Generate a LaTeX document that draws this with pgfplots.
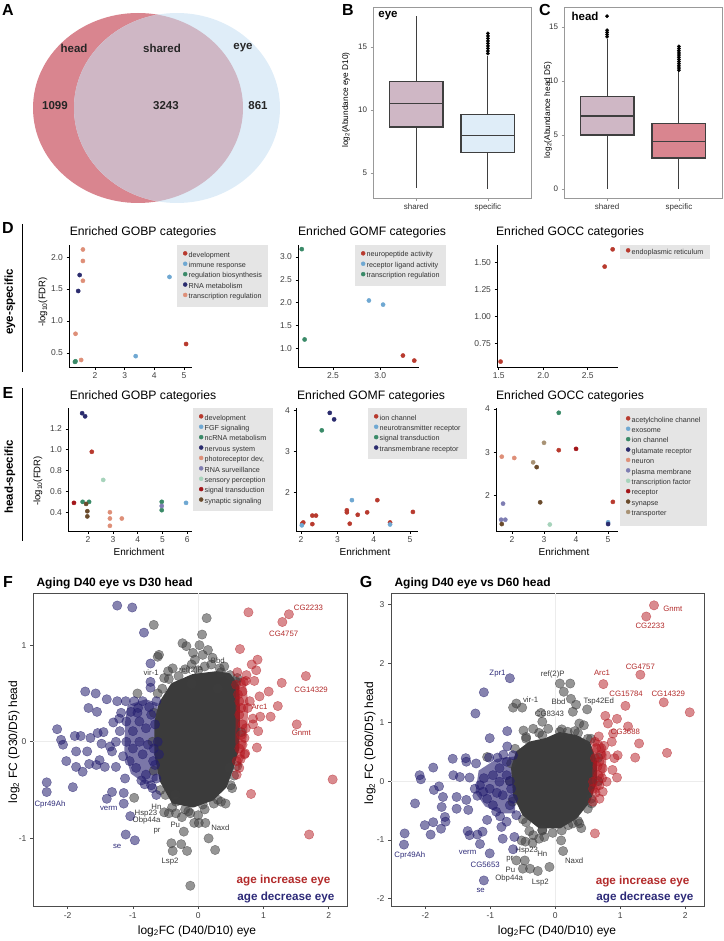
\documentclass[border=0pt]{standalone}
\usepackage{fontspec}
\setmainfont{Liberation Sans}
\usepackage{pgfplots}
\pgfplotsset{compat=1.18}
\usepgfplotslibrary{statistics}
\definecolor{headc}{HTML}{D9858F}
\definecolor{eyec}{HTML}{DFEDF8}
\definecolor{sharedc}{HTML}{CFB7C5}
\definecolor{boxc}{HTML}{3F3F3F}
\definecolor{cdev}{HTML}{B83A2E}
\definecolor{clb}{HTML}{6FA8D2}
\definecolor{cgr}{HTML}{3A8A68}
\definecolor{cnavy}{HTML}{2B2C6E}
\definecolor{csal}{HTML}{DE8F78}
\definecolor{clav}{HTML}{7E7DB2}
\definecolor{clg}{HTML}{A6D3BB}
\definecolor{cdr}{HTML}{A3161A}
\definecolor{cbr}{HTML}{6A4B2C}
\definecolor{ctan}{HTML}{A89274}
\definecolor{ptgrey}{HTML}{3E3E3E}
\definecolor{coreg}{HTML}{3B3B3B}
\definecolor{ptblue}{HTML}{231D6E}
\definecolor{ptred}{HTML}{B3171F}
\definecolor{labred}{HTML}{B22A2A}
\definecolor{labblue}{HTML}{2D2A78}
\definecolor{labgrey}{HTML}{3A3A3A}
\pgfplotsset{
 /pgf/number format/assume math mode=true,
 goax/.style={scale only axis, anchor=south west, axis lines=left, axis line style={-, line width=0.9pt, black},
   tick align=outside, major tick length=2.5pt, tick style={line width=0.7pt, black},
   tick label style={font=\fontsize{8.5}{9}\selectfont, text=black!75}, clip=false,
   legend cell align=left,
   legend style={fill=gray!20, draw=none, font=\fontsize{7.2}{8}\selectfont, text=black!80, anchor=north west,
     inner xsep=6pt, inner ysep=6pt, row sep=2.5pt, column sep=1pt,
     nodes={inner sep=0.5pt, text height=5.3pt, text depth=1.6pt}},
   legend image code/.code={\draw[##1, mark size=2pt] plot coordinates {(1pt,1.8pt)};}},
 gp/.style={only marks, mark=*, mark size=2.1pt, color=#1, mark options={fill=#1, draw=#1}},
 bxax/.style={scale only axis, anchor=south west, width=158pt, height=191pt, xmin=0.4, xmax=2.6,
   boxplot/draw direction=y, tick pos=left,
   xtick={1,2}, xticklabels={shared,specific}, axis line style={gray!80, line width=0.8pt},
   tick align=outside, major tick length=2.5pt, tick style={gray!80, line width=0.6pt},
   tick label style={font=\fontsize{8}{9}\selectfont, text=black!80}},
 sax/.style={scale only axis, anchor=south west, width=314pt, height=313pt, tick pos=left,
   axis line style={gray!60!black, line width=0.9pt}, tick align=outside, major tick length=3pt,
   tick style={gray!60!black, line width=0.7pt}, tick label style={font=\fontsize{8.5}{9}\selectfont, text=black!75},
   xtick={-2,-1,0,1,2}},
 gpt/.style={only marks, mark=*, mark size=4.7pt, mark options={fill=ptgrey, draw=ptgrey, fill opacity=0.55, draw opacity=0.6, line width=0.4pt}},
 bpt/.style={only marks, mark=*, mark size=4.7pt, mark options={fill=ptblue, draw=ptblue, fill opacity=0.55, draw opacity=0.6, line width=0.4pt}},
 rpt/.style={only marks, mark=*, mark size=4.7pt, mark options={fill=ptred, draw=ptred, fill opacity=0.5, draw opacity=0.55, line width=0.4pt}},
 outl/.style={mark=*, mark size=1.8pt, mark options={fill=black, draw=black, line width=0.2pt}},
}
\begin{document}
\begin{tikzpicture}
\useasboundingbox (0pt,0pt) rectangle (723pt,-941pt);
% ---------------- Panel letters
\begin{scope}[font=\fontsize{16}{16}\selectfont\bfseries]
\node at (8pt,-10pt) {A};
\node at (348pt,-10pt) {B};
\node at (545pt,-10pt) {C};
\node at (8pt,-228pt) {D};
\node at (8pt,-393pt) {E};
\node at (8pt,-582pt) {F};
\node at (366pt,-582pt) {G};
\end{scope}
% ---------------- A: Venn
\fill[headc] (138pt,-108pt) ellipse [x radius=105pt, y radius=95pt];
\fill[eyec] (177pt,-108pt) ellipse [x radius=103pt, y radius=95pt];
\begin{scope}
\clip (138pt,-108pt) ellipse [x radius=105pt, y radius=95pt];
\fill[sharedc] (177pt,-108pt) ellipse [x radius=103pt, y radius=95pt];
\end{scope}
\begin{scope}[font=\fontsize{11.5}{12}\selectfont\bfseries, text=black!85]
\node at (74pt,-48pt) {head};
\node at (162pt,-48pt) {shared};
\node at (243pt,-48pt) {eye};
\node at (55pt,-106pt) {1099};
\node at (166pt,-106pt) {3243};
\node at (258pt,-106pt) {861};
\end{scope}
% ---------------- B
\begin{axis}[bxax, at={(373pt,-198pt)}, ymin=3.0, ymax=18.2, ytick={5,10,15}]
\addplot[boxplot prepared={draw position=1, median=10.55, lower quartile=8.65, upper quartile=12.3,
  lower whisker=3.8, upper whisker=17.46, box extend=0.75, whisker extend=0},
  fill=sharedc, draw=boxc, line width=1.1pt, mark=none] coordinates {};
\addplot[boxplot prepared={draw position=2, median=7.94, lower quartile=6.59, upper quartile=9.68,
  lower whisker=3.7, upper whisker=14.3, box extend=0.75, whisker extend=0},
  fill=eyec, draw=boxc, line width=1.1pt, outl]
  table[row sep=\\, y index=0] {data\\ 14.5\\ 14.7\\ 14.9\\ 15.1\\ 15.3\\ 15.5\\ 15.7\\ 15.9\\ 16.1\\};
\end{axis}
\node[font=\fontsize{11.5}{12}\selectfont\bfseries] at (388pt,-16pt) {eye};
\node[rotate=90, font=\fontsize{8.3}{9}\selectfont] at (346pt,-100pt) {log\textsubscript{2}(Abundance eye D10)};
% ---------------- C
\begin{axis}[bxax, at={(564pt,-198pt)}, ymin=-0.83, ymax=16.85, ytick={0,5,10,15}]
\addplot[boxplot prepared={draw position=1, median=6.76, lower quartile=5.0, upper quartile=8.6,
  lower whisker=0, upper whisker=13.9, box extend=0.75, whisker extend=0},
  fill=sharedc, draw=boxc, line width=1.1pt, outl]
  table[row sep=\\, y index=0] {data\\ 14.1\\ 14.3\\ 14.5\\ 14.7\\ 16.0\\};
\addplot[boxplot prepared={draw position=2, median=4.44, lower quartile=2.87, upper quartile=6.1,
  lower whisker=0, upper whisker=10.9, box extend=0.75, whisker extend=0},
  fill=headc, draw=boxc, line width=1.1pt, outl]
  table[row sep=\\, y index=0] {data\\ 11.0\\ 11.2\\ 11.4\\ 11.6\\ 11.8\\ 12.0\\ 12.2\\ 12.4\\ 12.6\\ 12.8\\ 13.0\\ 13.2\\};
\end{axis}
\node[font=\fontsize{11.5}{12}\selectfont\bfseries] at (585pt,-16pt) {head};
\node[rotate=90, font=\fontsize{8.3}{9}\selectfont] at (548pt,-110pt) {log\textsubscript{2}(Abundance head D5)};
% ---------------- Row labels
\draw[line width=0.9pt] (22pt,-224pt) -- (22pt,-372pt);
\draw[line width=0.9pt] (22pt,-388pt) -- (22pt,-541pt);
\node[rotate=90, font=\fontsize{11.5}{12}\selectfont\bfseries] at (10pt,-302pt) {eye-specific};
\node[rotate=90, font=\fontsize{11.5}{12}\selectfont\bfseries] at (10pt,-477pt) {head-specific};
% titles
\begin{scope}[font=\fontsize{12.2}{13}\selectfont]
\node at (143pt,-232pt) {Enriched GOBP categories};
\node at (372pt,-232pt) {Enriched GOMF categories};
\node at (570pt,-232pt) {Enriched GOCC categories};
\node at (143pt,-396pt) {Enriched GOBP categories};
\node at (371pt,-396pt) {Enriched GOMF categories};
\node at (570pt,-396pt) {Enriched GOCC categories};
\end{scope}
\node[rotate=90, font=\fontsize{9.5}{10}\selectfont] at (43pt,-302pt) {-log\textsubscript{10}(FDR)};
\node[rotate=90, font=\fontsize{9.5}{10}\selectfont] at (38pt,-481pt) {-log\textsubscript{10}(FDR)};
\begin{scope}[font=\fontsize{10}{11}\selectfont]
\node at (139pt,-552pt) {Enrichment};
\node at (365pt,-552pt) {Enrichment};
\node at (564pt,-552pt) {Enrichment};
\end{scope}
% ---------------- D GOBP
\begin{axis}[goax, at={(69pt,-367pt)}, width=123pt, height=122pt, xmin=1.12, xmax=5.27, ymin=0.28, ymax=2.19,
  xtick={2,3,4,5}, ytick={0.5,1,1.5,2}, yticklabel style={/pgf/number format/.cd,fixed,fixed zerofill,precision=1},
  legend style={at={(0.878,1)}}]
\addplot[gp=cdev] coordinates {(5.07,0.64)};
\addplot[gp=clb] coordinates {(4.51,1.69) (3.37,0.45)};
\addplot[gp=cgr] coordinates {(1.32,0.36) (1.34,0.37)};
\addplot[gp=cnavy] coordinates {(1.48,1.72) (1.43,1.47)};
\addplot[gp=csal] coordinates {(1.59,2.12) (1.59,1.94) (1.59,1.63) (1.34,0.80) (1.53,0.39)};
\legend{development,immune response,regulation biosynthesis,RNA metabolism,transcription regulation}
\end{axis}
% ---------------- D GOMF
\begin{axis}[goax, at={(298pt,-367pt)}, width=121pt, height=122pt, xmin=2.13, xmax=3.41, ymin=0.60, ymax=3.26,
  xtick={2.5,3}, ytick={1,1.5,2,2.5,3},
  xticklabel style={/pgf/number format/.cd,fixed,fixed zerofill,precision=1},
  yticklabel style={/pgf/number format/.cd,fixed,fixed zerofill,precision=1},
  legend style={at={(0.471,1)}}]
\addplot[gp=cdev] coordinates {(3.24,0.85) (3.36,0.74)};
\addplot[gp=clb] coordinates {(2.88,2.05) (3.03,1.96)};
\addplot[gp=cgr] coordinates {(2.17,3.17) (2.20,1.20)};
\legend{neuropeptide activity,receptor ligand activity,transcription regulation}
\end{axis}
% ---------------- D GOCC
\begin{axis}[goax, at={(497pt,-367pt)}, width=121pt, height=122pt, xmin=1.48, xmax=2.84, ymin=0.53, ymax=1.66,
  xtick={1.5,2,2.5}, ytick={0.75,1,1.25,1.5},
  xticklabel style={/pgf/number format/.cd,fixed,fixed zerofill,precision=1},
  yticklabel style={/pgf/number format/.cd,fixed,fixed zerofill,precision=2},
  legend style={at={(1.016,1)}, inner ysep=3pt}]
\addplot[gp=cdev] coordinates {(1.52,0.58) (2.69,1.46) (2.78,1.62)};
\legend{endoplasmic reticulum}
\end{axis}
% ---------------- E GOBP
\begin{axis}[goax, at={(68pt,-531pt)}, width=124pt, height=123pt, xmin=1.19, xmax=6.19, ymin=0.22, ymax=1.40,
  xtick={2,3,4,5,6}, ytick={0.4,0.6,0.8,1.0,1.2},
  yticklabel style={/pgf/number format/.cd,fixed,fixed zerofill,precision=1},
  legend style={at={(1.008,1)}}]
\addplot[gp=cdev] coordinates {(2.15,0.98)};
\addplot[gp=clb] coordinates {(5.95,0.49)};
\addplot[gp=cgr] coordinates {(1.78,0.50) (2.04,0.50) (4.97,0.50) (4.97,0.42)};
\addplot[gp=cnavy] coordinates {(1.76,1.35) (1.88,1.32)};
\addplot[gp=csal] coordinates {(2.88,0.40) (2.88,0.34) (2.88,0.27) (3.36,0.34)};
\addplot[gp=clav] coordinates {(4.97,0.46)};
\addplot[gp=clg] coordinates {(2.61,0.71)};
\addplot[gp=cdr] coordinates {(1.43,0.49)};
\addplot[gp=cbr] coordinates {(1.92,0.48) (1.97,0.41) (1.97,0.36)};
\legend{development,FGF signaling,ncRNA metabolism,nervous system,{photoreceptor dev,},RNA surveillance,sensory perception,signal transduction,synaptic signaling}
\end{axis}
% ---------------- E GOMF
\begin{axis}[goax, at={(296pt,-531pt)}, width=122pt, height=123pt, xmin=1.86, xmax=5.22, ymin=1.04, ymax=4.07,
  xtick={2,3,4,5}, ytick={2,3,4}, legend style={at={(0.59,1)}}]
\addplot[gp=cdev] coordinates {(2.03,1.22) (2.06,1.25) (2.31,1.42) (2.41,1.42) (2.31,1.21) (3.26,1.55) (3.26,1.50) (3.56,1.44) (3.34,1.22) (3.82,1.50) (4.10,1.80) (4.45,1.25) (5.08,1.51)};
\addplot[gp=clb] coordinates {(3.40,1.80) (2.02,1.18) (4.45,1.20)};
\addplot[gp=cgr] coordinates {(2.57,3.52)};
\addplot[gp=cnavy] coordinates {(2.79,3.95) (2.91,3.79)};
\legend{ion channel,neurotransmitter receptor,signal transduction,transmembrane receptor}
\end{axis}
% ---------------- E GOCC
\begin{axis}[goax, at={(496pt,-531pt)}, width=122pt, height=123pt, xmin=1.5, xmax=5.31, ymin=1.19, ymax=4.02,
  xtick={2,3,4,5}, ytick={2,3,4}, legend style={at={(1.016,1)}, inner ysep=8pt}]
\addplot[gp=cdev] coordinates {(3.46,3.05) (5.15,1.86)};
\addplot[gp=clb] coordinates {(5.0,1.39)};
\addplot[gp=cgr] coordinates {(3.46,3.91)};
\addplot[gp=cnavy] coordinates {(5.0,1.35)};
\addplot[gp=csal] coordinates {(1.68,2.90) (2.07,2.87)};
\addplot[gp=clav] coordinates {(1.72,1.82) (1.66,1.45) (1.79,1.45)};
\addplot[gp=clg] coordinates {(3.18,1.34)};
\addplot[gp=cdr] coordinates {(4.0,3.08)};
\addplot[gp=cbr] coordinates {(2.77,2.66) (2.88,1.85) (1.68,1.35)};
\addplot[gp=ctan] coordinates {(3.0,3.22) (2.66,2.77)};
\legend{acetylcholine channel,exosome,ion channel,glutamate receptor,neuron,plasma membrane,transcription factor,receptor,synapse,transporter}
\end{axis}
% ---------------- F
\node[anchor=west, font=\fontsize{12}{13}\selectfont\bfseries] at (33pt,-583pt) {Aging D40 eye vs D30 head};
\begin{axis}[sax, at={(33pt,-906pt)}, xmin=-2.53, xmax=2.28, ymin=-1.70, ymax=1.54, ytick={-1,0,1}]
\draw[gray!15, line width=0.7pt] (axis cs:0,-1.70) -- (axis cs:0,1.54);
\draw[gray!15, line width=0.7pt] (axis cs:-2.53,0) -- (axis cs:2.28,0);
\addplot[gpt] coordinates {(-0.68,1.21) (0.13,1.28) (0.06,1.11) (-0.24,1.02) (-0.18,0.99) (-0.60,0.90) (-0.62,0.88)
 (-0.08,0.92) (0.07,0.90) (0.15,0.95) (0.22,0.87) (-0.46,0.73) (-0.52,0.66) (-0.39,0.76) (-0.10,0.80) (0.33,0.76)
 (-0.93,0.50) (0.02,1.00) (0.49,0.69) (-0.12,-1.49) (-0.41,-1.05) (-0.26,-1.06) (-0.39,-1.13) (-0.17,-1.13)
 (0.26,-1.12) (0.16,-1.00) (0.01,-0.84) (-0.22,-0.93) (-0.06,-0.84) (0.11,-0.84) (-0.52,-0.73) (-0.45,-0.74)
 (-0.34,-0.74) (-0.12,-0.74) (0.24,-0.64) (0.42,-0.64) (0.52,-0.48) (0.48,-0.27) (-0.98,-0.58) (-0.34,-0.62)
 (0.07,-0.65) (-0.55,0.55) (-0.30,0.68) (0.0,0.74) (0.35,0.72) (0.58,0.62) (0.55,-0.35) (0.3,-0.6) (-0.2,-0.7)
 (-0.5,-0.55) (-0.1,0.6) (0.3,0.55) (-0.35,-0.55)
 (-0.62,0.5) (-0.45,0.65) (-0.2,0.75) (0.1,0.78) (0.4,0.78) (0.6,0.66) (0.66,0.1) (0.6,-0.25) (0.5,-0.45)
 (0.35,-0.62) (0.1,-0.7) (-0.15,-0.72) (-0.4,-0.68) (-0.58,-0.5) (-0.68,-0.3) (-0.7,0.0) (-0.68,0.3)
 (-0.25,-0.78) (0.0,-0.76) (0.2,0.8) (-0.05,0.85)};
\addplot[bpt] coordinates {(-1.24,1.41) (-1.01,1.39) (-0.83,1.13) (-0.73,0.81) (-0.73,0.62) (-0.73,0.56) (-1.73,0.52)
 (-1.57,0.50) (-1.40,0.44) (-1.24,0.42) (-1.11,0.42) (-1.68,0.35) (-1.55,0.31) (-1.21,0.24) (-0.93,0.30)
 (-2.16,0.13) (-2.10,0.02) (-1.89,0.06) (-1.80,0.06) (-1.65,0.04) (-1.54,0.09) (-1.48,-0.02) (-2.07,-0.03)
 (-1.87,-0.10) (-2.02,-0.20) (-1.70,-0.10) (-1.87,-0.26) (-1.77,-0.31) (-1.67,-0.23) (-1.56,-0.24) (-1.43,-0.26)
 (-1.32,-0.10) (-1.51,-0.19) (-1.26,-0.26) (-1.12,-0.38) (-2.32,-0.42) (-2.32,-0.52) (-1.92,-0.47) (-1.40,-0.59)
 (-1.32,-0.52) (-1.14,-0.53) (-1.14,-0.64) (-1.04,-0.77) (-1.11,-0.96) (-0.97,-1.02) (-0.82,-0.44) (-0.70,-0.48)
 (-0.64,-0.55) (-1.10,0.21) (-1.00,0.11) (-0.90,0.00) (-0.80,0.14) (-0.72,0.28) (-0.85,0.42) (-0.64,0.42)
 (-1.00,-0.07) (-0.85,-0.13) (-0.69,-0.20) (-1.10,0.00) (-1.20,0.11) (-1.26,0.00) (-0.95,-0.27) (-0.80,-0.34)
 (-0.64,-0.38) (-0.62,0.0) (-0.66,0.18) (-0.60,-0.13) (-1.03,0.31) (-0.90,0.21) (-0.77,-0.03) (-0.68,-0.07)
 (-0.66,-0.24) (-1.15,-0.15) (-1.05,-0.2) (-0.92,0.35) (-0.75,0.36) (-1.18,0.3) (-0.98,0.42) (-0.87,-0.4)
 (-0.72,-0.45) (-1.3,0.2) (-1.35,-0.05) (-1.45,0.1)};
\addplot[fill=ptblue, fill opacity=0.6, draw=none] coordinates {(-1.08,0.38) (-0.80,0.44) (-0.62,0.40) (-0.62,-0.40)
 (-0.80,-0.44) (-1.03,-0.33) (-1.13,-0.10) (-1.12,0.20) (-1.08,0.38)};
\addplot[fill=coreg, draw=coreg, line width=4pt, line join=round] coordinates {(-0.57,0.40) (-0.39,0.59) (-0.08,0.68)
 (0.28,0.71) (0.47,0.69) (0.60,0.57) (0.61,0.28) (0.60,-0.07) (0.51,-0.27) (0.41,-0.46) (0.21,-0.59) (-0.08,-0.66)
 (-0.38,-0.62) (-0.56,-0.40) (-0.64,-0.13) (-0.64,0.21) (-0.57,0.40)};
\addplot[fill=ptred, fill opacity=0.55, draw=none] coordinates {(0.58,0.68) (0.72,0.64) (0.77,0.40) (0.75,0.10)
 (0.71,-0.15) (0.62,-0.30) (0.57,0.0) (0.58,0.68)};
\addplot[rpt] coordinates {(0.77,1.34) (1.39,1.32) (1.29,1.24) (0.64,0.96) (0.91,0.85) (0.82,0.80) (0.89,0.74)
 (0.60,0.72) (0.74,0.69) (1.65,0.68) (0.86,0.63) (1.28,0.61) (0.73,0.63) (1.08,0.52) (0.94,0.47) (1.22,0.37)
 (0.95,0.26) (1.11,0.26) (0.84,0.24) (1.51,0.18) (0.84,0.18) (0.92,0.11) (0.90,-0.06) (0.71,0.04) (0.71,-0.13)
 (0.59,-0.20) (0.59,-0.34) (2.06,-0.39) (0.81,-0.54) (1.70,-0.96) (0.63,0.42) (0.68,0.52) (0.63,0.28) (0.68,0.18)
 (0.66,0.07) (0.63,-0.07) (0.61,0.49) (0.76,0.35) (0.66,0.35) (0.73,0.14) (0.68,-0.03) (0.63,-0.27) (0.58,0.59)
 (0.79,0.42) (0.70,0.62) (0.65,-0.18) (0.72,-0.12)};
\begin{scope}[font=\fontsize{7.8}{8}\selectfont]
\node[text=labred] at (axis cs:1.69,1.39) {CG2233};
\node[text=labred] at (axis cs:1.31,1.12) {CG4757};
\node[text=labred] at (axis cs:1.73,0.54) {CG14329};
\node[text=labred] at (axis cs:0.94,0.36) {Arc1};
\node[text=labred] at (axis cs:1.58,0.09) {Gnmt};
\node[text=labblue] at (axis cs:-2.27,-0.65) {Cpr49Ah};
\node[text=labblue] at (axis cs:-1.37,-0.69) {verm};
\node[text=labblue] at (axis cs:-1.24,-1.08) {se};
\node[text=labgrey] at (axis cs:-0.72,0.72) {vir-1};
\node[text=labgrey] at (axis cs:-0.11,0.74) {ref(2)P};
\node[text=labgrey] at (axis cs:0.30,0.84) {Bbd};
\node[text=labgrey] at (axis cs:-0.64,-0.67) {Hn};
\node[text=labgrey] at (axis cs:-0.80,-0.74) {Hsp23};
\node[text=labgrey] at (axis cs:-0.79,-0.81) {Obp44a};
\node[text=labgrey] at (axis cs:-0.35,-0.86) {Pu};
\node[text=labgrey] at (axis cs:-0.63,-0.93) {pr};
\node[text=labgrey] at (axis cs:0.34,-0.89) {Naxd};
\node[text=labgrey] at (axis cs:-0.43,-1.24) {Lsp2};
\end{scope}
\node[anchor=east, text=labred, font=\fontsize{11.7}{12}\selectfont\bfseries] at (axis cs:2.08,-1.44) {age increase eye};
\node[anchor=east, text=labblue, font=\fontsize{11.7}{12}\selectfont\bfseries] at (axis cs:2.14,-1.61) {age decrease eye};
\end{axis}
\node[font=\fontsize{12}{13}\selectfont] at (197pt,-931pt) {log\textsubscript{2}FC (D40/D10) eye};
\node[rotate=90, font=\fontsize{12}{13}\selectfont] at (14pt,-742pt) {log\textsubscript{2} FC (D30/D5) head};
% ---------------- G
\node[anchor=west, font=\fontsize{12}{13}\selectfont\bfseries] at (391pt,-583pt) {Aging D40 eye vs D60 head};
\begin{axis}[sax, at={(391pt,-906pt)}, width=313pt, xmin=-2.53, xmax=2.29, ymin=-2.125, ymax=3.20, ytick={-2,-1,0,1,2,3}]
\draw[gray!15, line width=0.7pt] (axis cs:0,-2.125) -- (axis cs:0,3.2);
\draw[gray!15, line width=0.7pt] (axis cs:-2.53,0) -- (axis cs:2.29,0);
\addplot[gpt] coordinates {(0.07,1.66) (0.23,1.66) (0.13,1.52) (0.24,1.40) (0.32,1.30) (0.49,1.22) (0.27,1.18)
 (-0.60,1.32) (-0.65,1.25) (-0.51,1.25) (-0.22,1.16) (-0.20,1.01) (0.37,0.98) (0.44,0.95) (-0.34,0.89) (-0.49,0.86)
 (-0.11,0.89) (0.07,0.84) (0.19,0.84) (-1.05,0.41) (-0.46,-1.03) (-0.52,-1.01) (-0.60,-1.35) (-0.47,-1.35)
 (-0.39,-1.49) (-0.50,-1.49) (-0.27,-1.53) (-0.09,-1.46) (0.12,-1.19) (0.09,-1.01) (-0.17,-0.95) (0.27,-0.72)
 (0.37,-0.72) (0.50,-0.47) (-0.04,-0.88) (-0.34,-0.92) (-0.45,0.75) (-0.25,0.82) (0.3,0.85) (0.5,0.72)
 (0.55,-0.3) (0.2,-0.75) (-0.2,-0.83) (-0.45,-0.7) (-0.35,-1.05) (-0.25,-0.98)
 (-0.62,0.55) (-0.45,0.72) (-0.2,0.78) (0.1,0.88) (0.35,0.82) (0.55,0.72) (0.66,0.4) (0.66,0.0) (0.56,-0.38)
 (0.35,-0.68) (0.1,-0.84) (-0.2,-0.84) (-0.5,-0.65) (-0.66,-0.35) (-0.7,0.0) (-0.68,0.3) (0.4,-0.8) (-0.4,-0.85)};
\addplot[bpt] coordinates {(-0.70,1.75) (-1.10,1.51) (-1.23,1.15) (-0.74,0.85) (-1.01,0.73) (-0.74,0.59) (-1.58,0.38)
 (-1.38,0.39) (-1.37,0.33) (-1.22,0.30) (-1.02,0.40) (-0.89,0.40) (-1.88,0.23) (-2.09,0.10) (-2.07,0.03)
 (-1.57,0.10) (-1.47,0.07) (-1.32,0.06) (-1.79,-0.09) (-1.87,-0.15) (-1.73,-0.27) (-1.52,-0.27) (-1.37,-0.32)
 (-2.16,-0.38) (-1.75,-0.44) (-1.52,-0.47) (-1.34,-0.49) (-1.70,-0.61) (-1.69,-0.69) (-2.01,-0.75) (-1.88,-0.70)
 (-1.76,-0.81) (-1.92,-0.91) (-1.35,-0.85) (-1.32,-0.92) (-1.20,-0.91) (-1.12,-0.86) (-1.05,-0.66) (-2.32,-0.89)
 (-2.33,-1.08) (-1.16,-1.07) (-1.01,-1.23) (-1.10,-1.69) (-0.65,-1.16) (-0.81,-0.98) (-0.63,-0.95) (-0.83,-0.78)
 (-1.16,-0.07) (-1.01,-0.13) (-0.86,-0.01) (-0.75,0.10) (-0.96,0.10) (-0.81,-0.24) (-0.70,-0.41) (-0.96,-0.41)
 (-1.11,-0.18) (-0.75,0.33) (-0.65,0.44) (-0.86,0.22) (-1.24,-0.13) (-0.60,-0.58) (-0.68,-0.13) (-0.91,-0.52)
 (-0.75,-0.69) (-1.05,-0.3) (-0.9,-0.2) (-0.7,0.0) (-1.1,0.05) (-0.8,0.45) (-1.2,-0.25) (-0.65,-0.3) (-0.85,-0.6)};
\addplot[fill=ptblue, fill opacity=0.6, draw=none] coordinates {(-1.18,0.18) (-0.90,0.38) (-0.62,0.42) (-0.62,-0.55)
 (-0.85,-0.55) (-1.08,-0.43) (-1.23,-0.20) (-1.18,0.18)};
\addplot[fill=coreg, draw=coreg, line width=4pt, line join=round] coordinates {(-0.14,0.70) (0.07,0.80) (0.32,0.75)
 (0.51,0.64) (0.61,0.33) (0.61,-0.01) (0.51,-0.33) (0.31,-0.61) (0.07,-0.77) (-0.24,-0.77) (-0.48,-0.56)
 (-0.62,-0.24) (-0.65,0.22) (-0.58,0.48) (-0.39,0.64) (-0.14,0.70)};
\addplot[fill=ptred, fill opacity=0.55, draw=none] coordinates {(0.58,0.73) (0.72,0.68) (0.79,0.45) (0.77,0.15)
 (0.71,-0.10) (0.62,-0.25) (0.57,0.0) (0.58,0.73)};
\addplot[rpt] coordinates {(1.52,2.99) (1.40,2.80) (1.31,1.81) (0.74,1.65) (1.08,1.28) (1.67,1.34) (2.07,1.17)
 (0.77,1.11) (0.95,1.06) (0.81,0.98) (1.12,0.93) (0.89,0.81) (0.67,0.76) (0.87,0.67) (1.29,0.64) (1.72,0.48)
 (1.23,0.40) (0.91,0.39) (0.96,0.44) (0.72,0.05) (0.95,0.06) (0.79,-0.01) (0.88,0.19) (0.61,-0.89) (0.68,-0.30)
 (0.73,-0.18) (0.58,-0.13) (0.63,0.56) (0.68,0.33) (0.73,0.22) (0.66,0.10) (0.61,0.39) (0.78,0.44) (0.71,0.56)
 (0.61,0.67) (0.58,-0.01) (0.68,-0.07) (0.58,-0.35) (0.65,0.25) (0.75,0.6) (0.62,-0.2) (0.7,0.45)};
\begin{scope}[font=\fontsize{7.8}{8}\selectfont]
\node[text=labred] at (axis cs:1.81,2.93) {Gnmt};
\node[text=labred] at (axis cs:1.46,2.64) {CG2233};
\node[text=labred] at (axis cs:1.31,1.94) {CG4757};
\node[text=labred] at (axis cs:0.72,1.84) {Arc1};
\node[text=labred] at (axis cs:1.09,1.48) {CG15784};
\node[text=labred] at (axis cs:1.74,1.48) {CG14329};
\node[text=labred] at (axis cs:1.08,0.84) {CG3688};
\node[text=labblue] at (axis cs:-0.89,1.82) {Zpr1};
\node[text=labblue] at (axis cs:-2.24,-1.26) {Cpr49Ah};
\node[text=labblue] at (axis cs:-1.35,-1.22) {verm};
\node[text=labblue] at (axis cs:-1.08,-1.42) {CG5653};
\node[text=labblue] at (axis cs:-1.15,-1.86) {se};
\node[text=labgrey] at (axis cs:-0.04,1.81) {ref(2)P};
\node[text=labgrey] at (axis cs:-0.38,1.39) {vir-1};
\node[text=labgrey] at (axis cs:0.05,1.35) {Bbd};
\node[text=labgrey] at (axis cs:0.67,1.35) {Tsp42Ed};
\node[text=labgrey] at (axis cs:-0.09,1.14) {CG8343};
\node[text=labgrey] at (axis cs:-0.44,-1.19) {Hsp23};
\node[text=labgrey] at (axis cs:-0.20,-1.24) {Hn};
\node[text=labgrey] at (axis cs:-0.70,-1.33) {pr};
\node[text=labgrey] at (axis cs:-0.69,-1.51) {Pu};
\node[text=labgrey] at (axis cs:-0.71,-1.66) {Obp44a};
\node[text=labgrey] at (axis cs:-0.23,-1.73) {Lsp2};
\node[text=labgrey] at (axis cs:0.29,-1.36) {Naxd};
\end{scope}
\node[anchor=east, text=labred, font=\fontsize{11.7}{12}\selectfont\bfseries] at (axis cs:2.12,-1.70) {age increase eye};
\node[anchor=east, text=labblue, font=\fontsize{11.7}{12}\selectfont\bfseries] at (axis cs:2.18,-1.98) {age decrease eye};
\end{axis}
\node[font=\fontsize{12}{13}\selectfont] at (557pt,-931pt) {log\textsubscript{2}FC (D40/D10) eye};
\node[rotate=90, font=\fontsize{12}{13}\selectfont] at (370pt,-743pt) {log\textsubscript{2} FC (D60/D5) head};
\end{tikzpicture}
\end{document}
